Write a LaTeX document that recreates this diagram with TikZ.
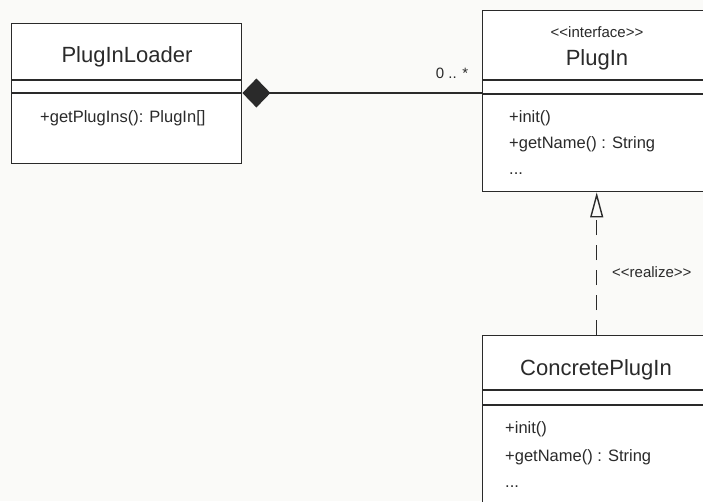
\documentclass[tikz,border=0pt]{standalone}
\usepackage{fontspec}
\setmainfont{Liberation Sans}
\usetikzlibrary{arrows.meta,calc}
\definecolor{ink}{HTML}{2A2A2A}
\definecolor{paper}{HTML}{FAFAF8}
% guillemet-free stereotype brackets
\newcommand{\stl}{<\kern0pt<}
\newcommand{\str}{>\kern0pt>}
\tikzset{
  classbox/.style={draw=ink, line width=1.4pt, fill=white, rectangle, anchor=north west, inner sep=0pt},
  divider/.style={draw=ink, line width=1.4pt},
  title/.style={text=ink, font=\fontsize{22}{26}\selectfont, inner sep=0pt},
  stereo/.style={text=ink, font=\fontsize{15}{18}\selectfont, inner sep=0pt},
  member/.style={text=ink, font=\fontsize{16.5}{19}\selectfont, inner sep=0pt, anchor=west},
  conn/.style={draw=ink, line width=1.4pt},
}
\begin{document}
\begin{tikzpicture}[x=1pt,y=-1pt]
  \fill[paper] (0,0) rectangle (703,501);
  \useasboundingbox (0,0) rectangle (703,501);
  \clip (0,0) rectangle (703,501);

  % PlugInLoader class
  \node[classbox, minimum width=230pt, minimum height=140pt] (loader) at (11,23) {};
  \draw[divider] (11,80) -- (241,80);
  \draw[divider] (11,93) -- (241,93);
  \node[title] (loadername) at (127,57) {PlugInLoader};
  \node[member] (loaderop) at (40,118) {+getPlugIns(): PlugIn[]};

  % PlugIn interface
  \node[classbox, minimum width=228pt, minimum height=181pt] (plugin) at (482,10) {};
  \draw[divider] (482,80) -- (710,80);
  \draw[divider] (482,94) -- (710,94);
  \node[stereo] (pluginstereo) at (597,32) {\stl interface\str};
  \node[title] (pluginname) at (597,60) {PlugIn};
  \node[member] (pluginop1) at (509,118) {+init()};
  \node[member] (pluginop2) at (509,144) {+getName() : String};
  \node[member] (pluginop3) at (509,174) {...};

  % ConcretePlugIn class
  \node[classbox, minimum width=228pt, minimum height=200pt] (concrete) at (482,335) {};
  \draw[divider] (482,390) -- (710,390);
  \draw[divider] (482,405) -- (710,405);
  \node[title] (concretename) at (596,370) {ConcretePlugIn};
  \node[member] (concreteop1) at (505,429) {+init()};
  \node[member] (concreteop2) at (505,457) {+getName() : String};
  \node[member] (concreteop3) at (505,487) {...};

  % composition: PlugInLoader owns 0..* PlugIn
  \coordinate (wholeend) at ($(loader.north east)+(0,70)$);
  \coordinate (partend) at (plugin.west |- wholeend);
  \draw[conn, {Diamond[length=28pt,width=29pt,fill=ink]}-] (wholeend) -- (partend);
  \node[stereo] (mult) at (452,73) {0 .. *};

  % realization: ConcretePlugIn implements PlugIn
  \draw[conn, dash pattern=on 15pt off 10pt,
        -{Triangle[open,length=25pt,width=13pt,line width=1.4pt]}]
        (concrete.north -| plugin.south) -- (plugin.south);
  \node[stereo, anchor=west] (realize) at (612,272) {\stl realize\str};
\end{tikzpicture}
\end{document}
